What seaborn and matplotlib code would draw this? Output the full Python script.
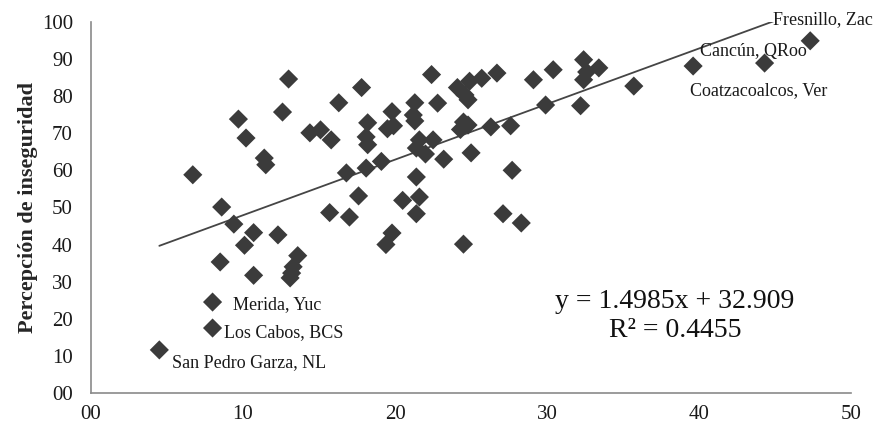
import numpy as np
import pandas as pd
import matplotlib.pyplot as plt
import seaborn as sns

# Data
x_vals = [4.5, 8.0, 8.0, 6.7, 8.6, 9.4, 10.7, 10.1, 12.3, 8.5, 10.7, 13.6, 13.3, 13.2, 13.1,
          9.7, 10.2, 11.4, 11.5, 12.6, 13.0, 14.4, 15.1, 15.8, 16.3, 17.8, 15.7, 17.0, 17.6,
          16.8, 18.1, 18.2, 18.1, 18.2, 19.1, 19.8, 19.5, 19.9, 19.8, 19.4, 20.5, 21.6, 21.4,
          21.4, 21.3, 21.2, 21.3, 21.6, 22.5, 21.4, 22.0, 23.2, 22.4, 22.8, 24.1, 24.6, 24.8,
          24.9, 25.7, 26.7, 24.5, 24.8, 24.3, 25.0, 24.5, 26.3, 27.6, 27.7, 27.1, 28.3, 29.9,
          29.1, 30.4, 32.4, 33.4, 32.6, 32.4, 32.2, 35.7, 39.6, 44.3, 47.3]
y_vals = [11.6, 17.5, 24.5, 58.8, 50.1, 45.5, 43.2, 39.8, 42.6, 35.3, 31.7, 37.0, 34.0, 32.3, 31.0,
          73.8, 68.7, 63.3, 61.5, 75.7, 84.6, 70.1, 70.9, 68.2, 78.2, 82.3, 48.6, 47.4, 53.1,
          59.3, 60.6, 72.8, 69.0, 66.9, 62.4, 75.8, 71.2, 72.0, 43.1, 40.0, 51.9, 52.8, 48.3,
          58.2, 78.2, 74.9, 73.3, 68.2, 68.2, 66.0, 64.4, 63.0, 85.8, 78.1, 82.3, 80.3, 79.0,
          84.0, 84.8, 86.2, 73.0, 72.2, 71.0, 64.7, 40.1, 71.7, 72.0, 60.0, 48.3, 45.8, 77.6,
          84.4, 87.1, 89.8, 87.6, 86.5, 84.4, 77.4, 82.7, 88.1, 88.9, 94.9]

# labelled cities (index into the arrays above)
label_idx = [0, 1, 2, 81, 80, 79]
label_txt = ["San Pedro Garza, NL", "Los Cabos, BCS", "Merida, Yuc",
             "Fresnillo, Zac", "Cancún, QRoo", "Coatzacoalcos, Ver"]

# trend line from the equation shown
slope = 1.4985
intercept = 32.909
eq_text = "y = 1.4985x + 32.909\nR² = 0.4455"

x_ticks = [0, 10, 20, 30, 40, 50]
x_ticklabels = ["00", "10", "20", "30", "40", "50"]
y_ticks = [0, 10, 20, 30, 40, 50, 60, 70, 80, 90, 100]
y_ticklabels = ["00", "10", "20", "30", "40", "50", "60", "70", "80", "90", "100"]

df = pd.DataFrame({"x": x_vals, "y": y_vals})

sns.set_style("white")
plt.rcParams['font.family'] = ['Liberation Serif', 'DejaVu Serif']

fig = plt.figure(figsize=(8.74, 4.29), dpi=100)
ax = fig.add_axes([0.104, 0.084, 0.870, 0.865])

sns.scatterplot(data=df, x="x", y="y", marker="D", s=95, color="#3b3b3b",
                edgecolor="none", ax=ax, zorder=3)

xl = np.array([min(x_vals), max(x_vals)])
ax.plot(xl, slope * xl + intercept, color="#454545", lw=1.3, zorder=2)

offsets = [(9, -9), (8.5, -3.5), (15, -1.5), (-27, 15), (-46.5, 8), (-2, -18)]
for i, t, off in zip(label_idx, label_txt, offsets):
    ax.annotate(t, (x_vals[i], y_vals[i]), xytext=off, textcoords="offset points",
                ha="left", va="center", fontsize=13, color="#1a1a1a", annotation_clip=False)

ax.text(0.768, 0.2075, eq_text, transform=ax.transAxes, ha="center", va="center",
        fontsize=20, color="#111111", linespacing=1.2, multialignment="center")

ax.set_xlim(0, 50)
ax.set_ylim(0, 100)
ax.set_xticks(x_ticks)
ax.set_xticklabels(x_ticklabels)
ax.set_yticks(y_ticks)
ax.set_yticklabels(y_ticklabels)
ax.tick_params(axis="both", length=0, labelsize=15, colors="#1a1a1a")
ax.tick_params(axis="y", pad=13)
ax.tick_params(axis="x", pad=9)
ax.set_xlabel("")
ax.set_ylabel("Percepción de inseguridad", fontsize=16, fontweight="bold", labelpad=3)

for s in ["top", "right"]:
    ax.spines[s].set_visible(False)
for s in ["left", "bottom"]:
    ax.spines[s].set_color("#8a8a8a")
    ax.spines[s].set_linewidth(1.2)

fig.savefig("out.png", dpi=100)
